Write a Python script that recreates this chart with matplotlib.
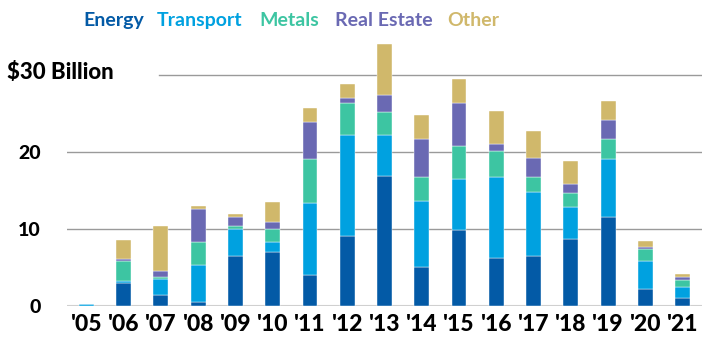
import numpy as np
import matplotlib.pyplot as plt

plt.rcParams['font.family'] = ['Lato', 'DejaVu Sans']

years = ["'05", "'06", "'07", "'08", "'09", "'10", "'11", "'12", "'13",
         "'14", "'15", "'16", "'17", "'18", "'19", "'20", "'21"]

# $ billions per sector
energy = [0.0, 2.96, 1.48, 0.57, 6.48, 7.0, 4.0, 9.04, 16.91,
          5.04, 9.87, 6.3, 6.48, 8.65, 11.52, 2.26, 1.0]
transport = [0.2, 0.34, 2.0, 4.82, 3.48, 1.3, 9.39, 13.16, 5.29,
             8.56, 6.65, 10.48, 8.3, 4.18, 7.57, 3.65, 1.52]
metals = [0.0, 2.57, 0.3, 2.96, 0.39, 1.74, 5.65, 4.15, 2.97,
          3.1, 4.22, 3.31, 1.92, 1.91, 2.56, 1.52, 0.91]
real_estate = [0.0, 0.22, 0.79, 4.25, 1.22, 0.87, 4.92, 0.61, 2.18,
               4.95, 5.56, 1.0, 2.56, 1.13, 2.57, 0.22, 0.31]
other = [0.0, 2.51, 5.86, 0.36, 0.43, 2.66, 1.74, 1.87, 6.69,
         3.13, 3.18, 4.21, 3.44, 2.91, 2.38, 0.83, 0.43]

series = [("Energy", energy, "#035AA6"),
          ("Transport", transport, "#00A1E0"),
          ("Metals", metals, "#3DC5A2"),
          ("Real Estate", real_estate, "#6A69B3"),
          ("Other", other, "#D0B86B")]

fig = plt.figure(figsize=(7.18, 3.53), dpi=100)
ax = fig.add_axes([0.0933, 0.1331, 0.8844, 0.7635])

x = np.arange(len(years))
bottom = np.zeros(len(years))
for name, vals, color in series:
    ax.bar(x, vals, width=0.4, bottom=bottom, color=color,
           edgecolor='white', linewidth=0.3, zorder=3)
    bottom += np.array(vals)

# gridlines
ax.axhline(10, color='#9a9a9a', lw=1, zorder=1)
ax.axhline(20, color='#9a9a9a', lw=1, zorder=1)
ax.axhline(30, xmin=0.145, color='#9a9a9a', lw=1, zorder=1)
ax.axhline(0, color='#d0d0d0', lw=1.5, zorder=2)

ax.set_xlim(-0.52, 16.52)
ax.set_ylim(0, 35)
for s in ax.spines.values():
    s.set_visible(False)

ax.set_yticks([0, 10, 20])
ax.set_yticklabels(['0', '10', '20'], fontsize=14, fontweight='black')
ax.tick_params(axis='y', length=0, pad=19)
ax.set_xticks(x)
ax.set_xticklabels(years, fontsize=16.5, fontweight='black')
ax.tick_params(axis='x', length=0, pad=6)

fig.text(0.01, 0.795, "$30 Billion", fontsize=16, fontweight='black',
         va='center', ha='left')

# legend as coloured words
legend_x = [0.116, 0.219, 0.361, 0.467, 0.623]
for (name, vals, color), lx in zip(series, legend_x):
    fig.text(lx, 0.943, name, color=color, fontsize=14,
             fontweight='bold', va='center', ha='left')

fig.savefig('out.png', dpi=100)
